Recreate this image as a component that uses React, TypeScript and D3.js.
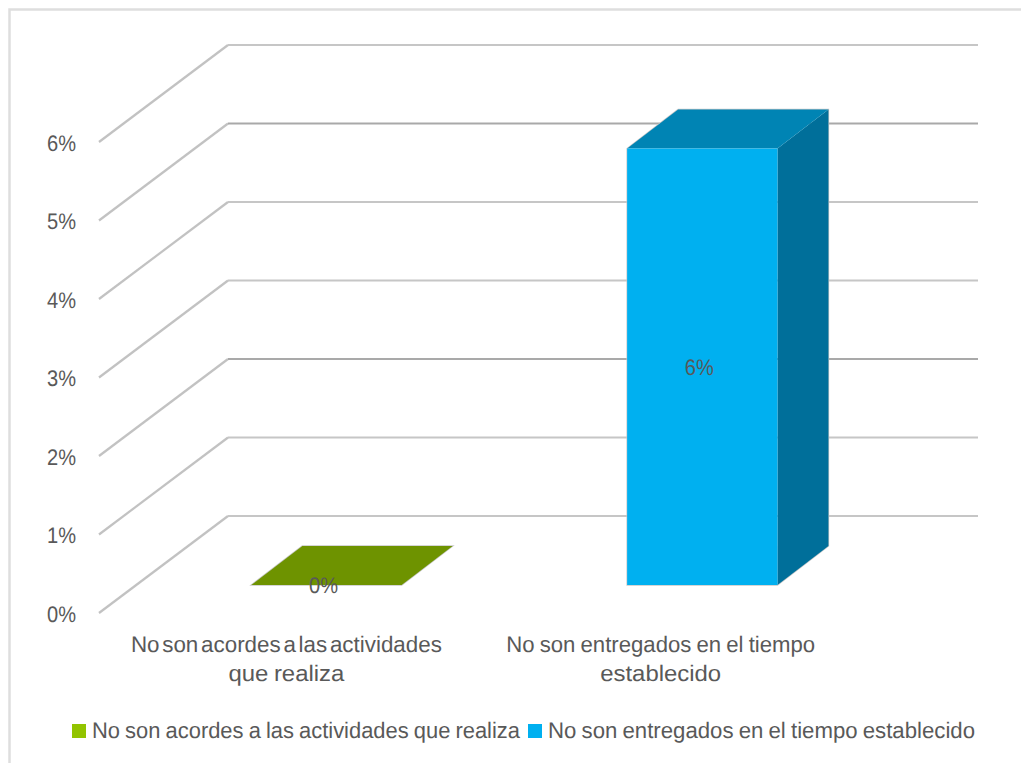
import React from "react";
import * as d3 from "d3";

const categories = ["No son acordes a las actividades que realiza", "No son entregados en el tiempo establecido"];
const axisLines = [["No son acordes a las actividades", "que realiza"], ["No son entregados en el tiempo", "establecido"]];
const values = [0, 0.0556];
const ticks = [0, 0.01, 0.02, 0.03, 0.04, 0.05, 0.06];
const frontColors = ["#92c400", "#00b0f0"];
const topColors = ["#6e9300", "#0084b4"];
const sideColors = ["#587600", "#006f9a"];
const wallLineColors = ["#c6c6c6", "#c6c6c6", "#a9a9a9", "#c6c6c6", "#c6c6c6", "#a9a9a9", "#c6c6c6"];

const FONT = "'Liberation Sans', Arial, sans-serif";
const TEXT = "#595959";
const SIZE = 22.5;

// Oblique projection: the floor recedes up and to the right.
const wallDx = 129;
const wallDy = -97;
const barGapDx = 39.6;
const barGapDy = -28;
const barDepthDx = 51;
const barDepthDy = -39;
const floorLeft = 99;
const floorRight = 849;

const y = d3.scaleLinear().domain([0, 0.06]).range([613, 142]);
const x = d3.scaleBand<number>().domain([0, 1]).range([floorLeft, floorLeft + 751.6]);
const barWidth = x.bandwidth() * 0.4;
const pct = d3.format(".0%");
const poly = d3.line();

// Category captions sit slightly left of their band centres.
const captionShift = [-0.5, -2];
const captionWidths = [[311, 116], [309, 121]];
const legendWidths = [428, 427];
const legendSwatchX = [72, 528];
const legendTextX = [92, 548];

export default function App() {
  const floorY = y(0) + barGapDy;
  return (
    <svg
      width={1021}
      height={763}
      style={{ position: "absolute", left: 0, top: 0 }}
      fontFamily={FONT}
      textRendering="geometricPrecision"
    >
      <rect x={9.5} y={9.5} width={1020} height={760} fill="#fff" stroke="#dedede" strokeWidth={2.5} />

      {ticks.map((t, i) => (
        <g key={t} fill="none" strokeWidth={2.2}>
          <path
            d={poly([
              [floorLeft, y(t)],
              [floorLeft + wallDx, y(t) + wallDy],
            ])!}
            stroke="#c2c2c2"
          />
          <path
            d={poly([
              [floorLeft + wallDx, y(t) + wallDy],
              [floorRight + wallDx, y(t) + wallDy],
            ])!}
            stroke={wallLineColors[i]}
          />
        </g>
      ))}

      {ticks.map((t) => (
        <text
          key={t}
          x={47}
          y={y(t) + 8.5}
          fontSize={SIZE}
          fill={TEXT}
          textLength={29}
          lengthAdjust="spacingAndGlyphs"
        >
          {pct(t)}
        </text>
      ))}

      {values.map((v, i) => {
        const left = x(i)! + x.bandwidth() / 2 - barWidth / 2 + barGapDx;
        const right = left + barWidth;
        const top = floorY - (y(0) - y(v));
        const outline = poly([
          [left, floorY],
          [left, top],
          [left + barDepthDx, top + barDepthDy],
          [right + barDepthDx, top + barDepthDy],
          [right + barDepthDx, floorY + barDepthDy],
          [right, floorY],
        ])! + "Z";
        return (
          <g key={categories[i]}>
            <path d={outline} fill="none" stroke="#c8c8c8" strokeWidth={1.4} />
            {v > 0 && (
              <path
                d={poly([
                  [right, floorY],
                  [right + barDepthDx, floorY + barDepthDy],
                  [right + barDepthDx, top + barDepthDy],
                  [right, top],
                ])!}
                fill={sideColors[i]}
              />
            )}
            <path
              d={poly([
                [left, top],
                [left + barDepthDx, top + barDepthDy],
                [right + barDepthDx, top + barDepthDy],
                [right, top],
              ])!}
              fill={topColors[i]}
            />
            {v > 0 && <rect x={left} y={top} width={barWidth} height={floorY - top} fill={frontColors[i]} />}
            <text
              x={(left + right) / 2 - 3}
              y={i === 0 ? floorY + 8 : (top + floorY) / 2 + 8}
              textAnchor="middle"
              fontSize={SIZE}
              fill={TEXT}
              textLength={29}
              lengthAdjust="spacingAndGlyphs"
            >
              {pct(v)}
            </text>
          </g>
        );
      })}

      {axisLines.map((lines, i) =>
        lines.map((line, j) => (
          <text
            key={line}
            x={x(i)! + x.bandwidth() / 2 + captionShift[i]}
            y={652 + j * 29}
            textAnchor="middle"
            fontSize={SIZE}
            fill={TEXT}
            wordSpacing={i === 0 && j === 0 ? -3.5 : -1}
            textLength={captionWidths[i][j]}
            lengthAdjust="spacingAndGlyphs"
          >
            {line}
          </text>
        ))
      )}

      {categories.map((c, i) => (
        <g key={c}>
          <rect x={legendSwatchX[i]} y={724} width={14} height={14} fill={frontColors[i]} />
          <text
            x={legendTextX[i]}
            y={737.5}
            fontSize={SIZE}
            fill={TEXT}
            wordSpacing={-1}
            textLength={legendWidths[i]}
            lengthAdjust="spacingAndGlyphs"
          >
            {c}
          </text>
        </g>
      ))}
    </svg>
  );
}
